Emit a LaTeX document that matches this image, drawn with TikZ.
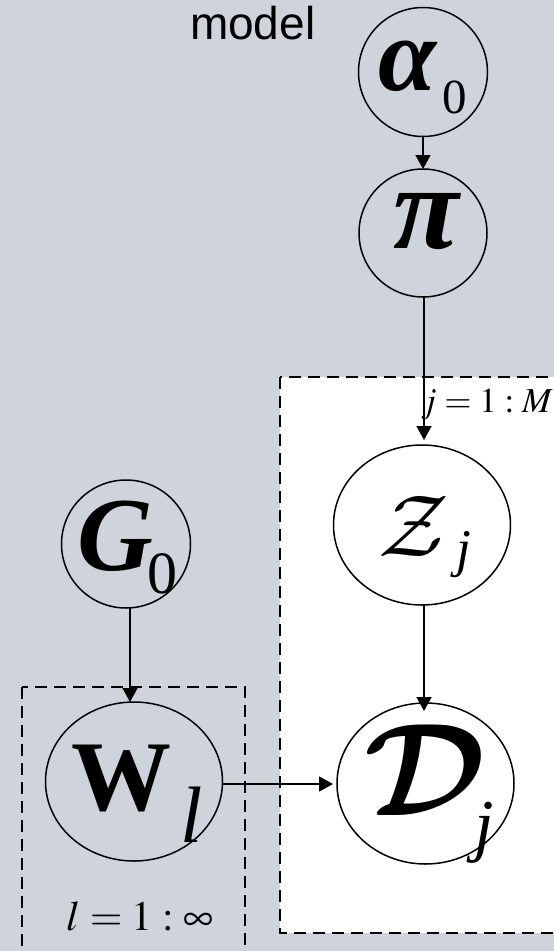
\RequirePackage{fix-cm}
\documentclass[tikz,border=0pt]{standalone}
\usepackage{amsmath}
\usepackage{mathptmx}
\usepackage[no-math]{fontspec}
\setmainfont{Liberation Serif}
\newfontfamily\sansf{Liberation Sans}
\DeclareMathAlphabet{\cmcal}{OMS}{cmsy}{m}{n}
\DeclareMathAlphabet{\cmcalb}{OMS}{cmsy}{b}{n}
\usetikzlibrary{shapes.geometric,arrows.meta,calc}
\definecolor{bg}{RGB}{207,211,219}
\begin{document}
\begin{tikzpicture}[x=1pt,y=-1pt,
 var/.style={ellipse,draw,line width=1.5pt,inner sep=0pt,outer sep=0pt},
 plate/.style={draw,line width=1.5pt,dash pattern=on 12pt off 7pt},
 arr/.style={line width=1.6pt,-{Triangle[length=14pt,width=15pt]}},
 txt/.style={inner sep=0pt,outer sep=0pt,anchor=base west},
]
\fill[bg] (0,0) rectangle (554,951);
\useasboundingbox (0,0) rectangle (554,951);
% plates
\draw[plate,fill=white] (280,377) rectangle (580,933);
\draw[plate] (22,687) rectangle (245,980);
% variable nodes
\node[var,minimum width=129pt,minimum height=129pt] (alpha) at (423,72) {};
\node[var,minimum width=128pt,minimum height=128pt] (pi) at (423,233) {};
\node[var,minimum width=177pt,minimum height=160pt] (Z) at (422,525) {};
\node[var,minimum width=129pt,minimum height=128pt] (G0) at (126,544) {};
\node[var,minimum width=177pt,minimum height=159pt] (W) at (134,781.5) {};
\node[var,minimum width=177pt,minimum height=161pt] (D) at (425.5,783.5) {};
% texts
\node[txt] (model) at (190,39) {\sansf\fontsize{46}{46}\selectfont model};
\node[txt] (ta) at (378,90) {\fontsize{105}{105}\selectfont\bfseries\itshape α};
\node[txt] (ta0) at (442,113) {\fontsize{49}{49}\selectfont 0};
\node[txt] (tpi) at (393,248) {\fontsize{120}{120}\selectfont\bfseries\itshape π};
\node[txt] (tz) at (378,556) {\fontsize{88}{88}\selectfont$\cmcal{Z}$};
\node[txt] (tzj) at (456,566) {\fontsize{53}{53}\selectfont\itshape j};
\node[txt] (tg) at (77,570) {\fontsize{105}{105}\selectfont\bfseries\itshape G};
\node[txt] (tg0) at (147,593) {\fontsize{60}{60}\selectfont 0};
\node[txt] (tw) at (71,810) {\fontsize{100}{100}\selectfont\bfseries W};
\node[txt] (twl) at (180,842) {\fontsize{80}{80}\selectfont\itshape l};
\node[txt] (td) at (364,815) {\fontsize{132}{132}\selectfont$\cmcalb{D}$};
\node[txt] (tdj) at (474,848) {\fontsize{70}{70}\selectfont\itshape j};
\node[inner sep=0pt,anchor=base east] (jlab) at (553,412) {\fontsize{35}{35}\selectfont$j=1:M$};
\node[inner sep=0pt,anchor=base] (llab) at (140,930) {\fontsize{42}{42}\selectfont$l=1:\infty$};
% arrows
\draw[arr] (alpha) -- (pi);
\draw[arr,shorten >=5pt] ($(pi.south)+(1,0)$) -- ($(Z.north)+(2,0)$);
\draw[arr] ($(G0.south)+(4,0)$) -- ($(W.north)+(-4,0)$);
\draw[arr,shorten >=-8pt] ($(Z.south)+(2,0)$) -- ($(D.north)+(-1.5,0)$);
\draw[arr,shorten >=4pt] ($(W.east)+(0,2.5)$) -- ($(D.west)+(0,0.5)$);
\end{tikzpicture}
\end{document}
